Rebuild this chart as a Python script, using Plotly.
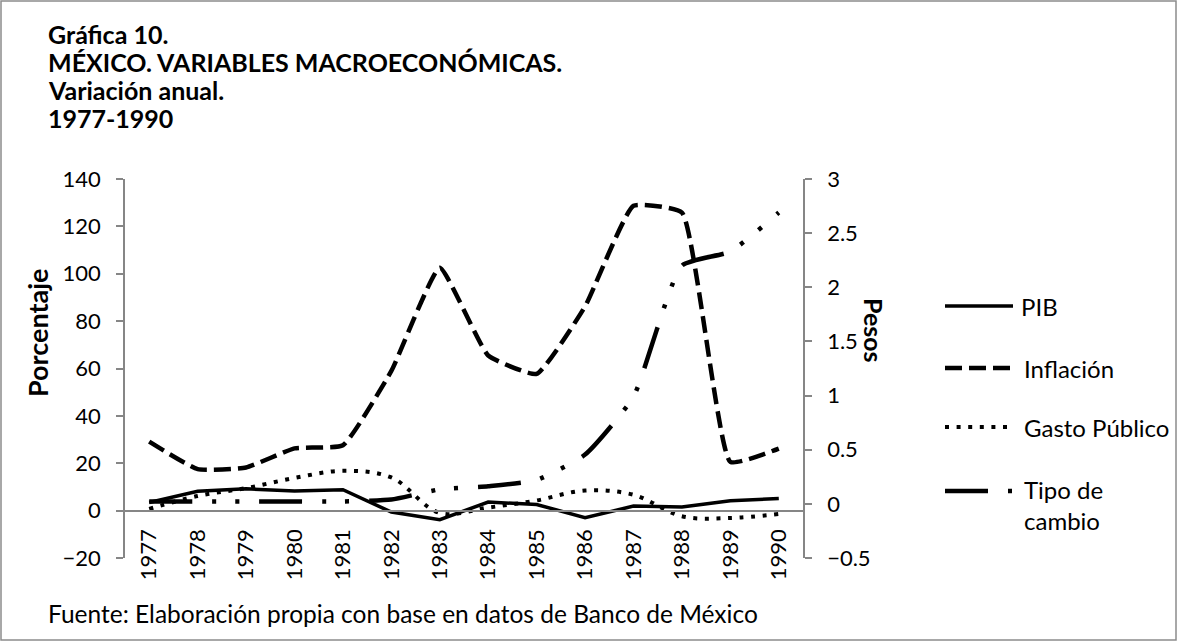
import plotly.graph_objects as go

# --- data ---
YEARS = ["1977", "1978", "1979", "1980", "1981", "1982", "1983",
         "1984", "1985", "1986", "1987", "1988", "1989", "1990"]
PIB = [3.4, 8.2, 9.2, 8.3, 8.8, -0.6, -3.8, 3.6, 2.6, -3.0, 1.9, 1.5, 4.2, 5.1]
INFLACION = [29.1, 17.5, 18.2, 26.3, 27.6, 59.0, 102.5, 65.5, 57.7, 86.2, 128.7, 125.8, 20.6, 26.2]
GASTO_PUBLICO = [0.7, 6.2, 9.5, 13.8, 16.8, 14.0, -1.0, 1.3, 4.3, 8.5, 6.7, -2.4, -3.1, -1.4]
TIPO_CAMBIO = [0.022, 0.022, 0.022, 0.022, 0.022, 0.04, 0.134, 0.163, 0.22, 0.455, 0.99, 2.2, 2.33, 2.69]

LEFT_RANGE = [-20, 140]
RIGHT_RANGE = [-0.5, 3]

TITLE_LINES = ["Gráfica 10.", "MÉXICO. VARIABLES MACROECONÓMICAS.",
               "Variación anual.", "1977-1990"]
SOURCE = "Fuente: Elaboración propia con base en datos de Banco de México"

W, H = 1177, 641
L, R, T, B = 125, 374, 179, 83
FONT = "Lato"
AXIS_GRAY = "#868686"

STYLES = {
    "PIB": dict(width=3.5, dash="solid"),
    "Inflación": dict(width=4.5, dash="17px,7px"),
    "Gasto Público": dict(width=4, dash="4px,7.6px"),
    "Tipo de cambio": dict(width=4.5, dash="43px,20px,4px,19px,4px,20px"),
}


def px_x(px):
    return (px - L) / (W - L - R)


def px_y(py):
    return (H - B - py) / (H - T - B)


fig = go.Figure()
fig.add_trace(go.Scatter(x=YEARS, y=PIB, name="PIB", mode="lines",
                         line=dict(color="black", **STYLES["PIB"])))
fig.add_trace(go.Scatter(x=YEARS, y=INFLACION, name="Inflación", mode="lines",
                         line=dict(color="black", shape="spline", smoothing=0.4,
                                   **STYLES["Inflación"])))
fig.add_trace(go.Scatter(x=YEARS, y=GASTO_PUBLICO, name="Gasto Público", mode="lines",
                         line=dict(color="black", shape="spline", smoothing=1.0,
                                   **STYLES["Gasto Público"])))
fig.add_trace(go.Scatter(x=YEARS, y=TIPO_CAMBIO, name="Tipo de cambio", mode="lines",
                         yaxis="y2",
                         line=dict(color="black", shape="spline", smoothing=0.5,
                                   **STYLES["Tipo de cambio"])))

tick_font = dict(family=FONT, size=22, color="black")
text_font = dict(family=FONT, size=24, color="black")

fig.update_layout(
    width=W,
    height=H,
    margin=dict(l=L, r=R, t=T, b=B),
    paper_bgcolor="white",
    plot_bgcolor="white",
    showlegend=False,
    font=dict(family=FONT, color="black"),
    xaxis=dict(
        type="category",
        range=[-0.5, len(YEARS) - 0.5],
        anchor="free",
        position=(0 - LEFT_RANGE[0]) / (LEFT_RANGE[1] - LEFT_RANGE[0]),
        showline=True, linecolor=AXIS_GRAY, linewidth=1.5,
        showgrid=False, ticks="",
        tickangle=-90, tickfont=tick_font, ticklabelstandoff=9,
    ),
    yaxis=dict(
        range=LEFT_RANGE, dtick=20, anchor="x",
        showline=True, linecolor=AXIS_GRAY, linewidth=1.5,
        showgrid=False, zeroline=False,
        ticks="outside", ticklen=7, tickcolor=AXIS_GRAY, tickwidth=1.5,
        tickfont=tick_font, ticklabelstandoff=11,
    ),
    yaxis2=dict(
        range=RIGHT_RANGE, dtick=0.5, overlaying="y", side="right", anchor="x",
        showline=True, linecolor=AXIS_GRAY, linewidth=1.5,
        showgrid=False, zeroline=False,
        ticks="outside", ticklen=7, tickcolor=AXIS_GRAY, tickwidth=1.5,
        tickfont=tick_font, ticklabelstandoff=11,
    ),
)

annotations = []
for i, line in enumerate(TITLE_LINES):
    annotations.append(dict(text=f"<b>{line}</b>", x=px_x(46), y=px_y(34 + 28 * i),
                            xanchor="left", yanchor="middle",
                            font=dict(family=FONT, size=25, color="black")))
annotations += [
    dict(text="<b>Porcentaje</b>", x=px_x(37), y=px_y(333), textangle=-90,
         xanchor="center", yanchor="middle",
         font=dict(family=FONT, size=27, color="black")),
    dict(text="<b>Pesos</b>", x=px_x(874), y=px_y(330), textangle=90,
         xanchor="center", yanchor="middle",
         font=dict(family=FONT, size=25, color="black")),
    dict(text=SOURCE, x=px_x(46), y=px_y(613), xanchor="left", yanchor="middle",
         font=dict(family=FONT, size=24.5, color="black")),
]

# legend drawn at the right of the plot
legend_rows = [
    ("PIB", "PIB", 306, 1019),
    ("Inflación", "Inflación", 368, 1022),
    ("Gasto Público", "Gasto Público", 427, 1022),
    ("Tipo de cambio", "Tipo de<br>cambio", 491, 1022),
]
shapes = []
for key, label, ypx, text_x in legend_rows:
    st = STYLES[key]
    shapes.append(dict(type="line", xref="paper", yref="paper",
                       x0=px_x(945), x1=px_x(1013), y0=px_y(ypx), y1=px_y(ypx),
                       line=dict(color="black", width=st["width"], dash=st["dash"])))
    if "<br>" in label:
        annotations.append(dict(text=label, x=px_x(text_x), y=px_y(ypx - 18),
                                xanchor="left", yanchor="top", align="left",
                                font=text_font))
    else:
        annotations.append(dict(text=label, x=px_x(text_x), y=px_y(ypx),
                                xanchor="left", yanchor="middle", font=text_font))

# outer chart border
shapes.append(dict(type="rect", xref="paper", yref="paper",
                   x0=px_x(1), x1=px_x(1176), y0=px_y(1), y1=px_y(640),
                   line=dict(color="#8c8c8c", width=1.5)))

for a in annotations:
    a.setdefault("xref", "paper")
    a.setdefault("yref", "paper")
    a.setdefault("showarrow", False)

fig.update_layout(annotations=annotations, shapes=shapes)

fig.write_html("out.html", config={"displayModeBar": False},
               post_script="document.body.style.margin='0';document.body.style.overflow='hidden';")
